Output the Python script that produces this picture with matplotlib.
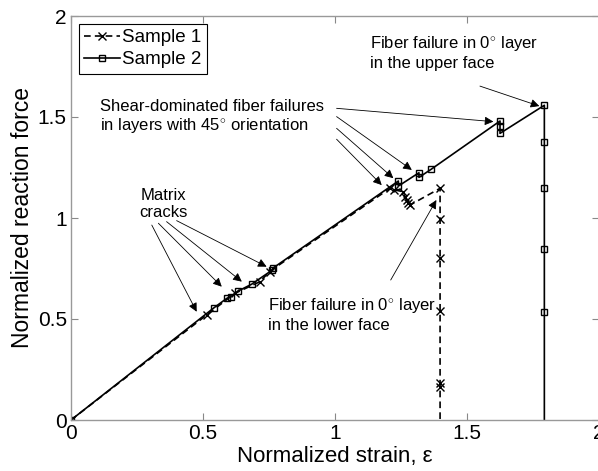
import numpy as np
import matplotlib
matplotlib.use("Agg")
import matplotlib.pyplot as plt

plt.rcParams['font.family'] = ['Liberation Sans', 'DejaVu Sans']
plt.rcParams['mathtext.fontset'] = 'custom'
plt.rcParams['mathtext.rm'] = 'Liberation Sans'

# sample 1 (dashed, x markers)
s1_x = [0, 0.514, 0.621, 0.716, 0.752, 1.208, 1.222, 1.259, 1.265, 1.271, 1.278, 1.284,
        1.398, 1.398, 1.398, 1.398, 1.398, 1.398, 1.398]
s1_y = [0, 0.520, 0.627, 0.685, 0.735, 1.147, 1.140, 1.130, 1.106, 1.089, 1.072, 1.064,
        1.147, 0.994, 0.800, 0.541, 0.183, 0.165, 0.0]

# sample 2 (solid, square markers)
s2_x = [0, 0.542, 0.590, 0.605, 0.634, 0.684, 0.763, 0.765, 1.240, 1.240, 1.318, 1.318,
        1.364, 1.625, 1.625, 1.625, 1.793, 1.793, 1.793, 1.793, 1.793, 1.793]
s2_y = [0, 0.556, 0.602, 0.611, 0.639, 0.672, 0.743, 0.752, 1.183, 1.158, 1.224, 1.201,
        1.241, 1.480, 1.455, 1.419, 1.558, 1.378, 1.147, 0.847, 0.536, 0.0]

# annotation texts and arrows (start -> tip, data coords)
txt_upper = "Fiber failure in 0$^{\\circ}$ layer\nin the upper face"
txt_shear = "Shear-dominated fiber failures\nin layers with 45$^{\\circ}$ orientation"
txt_matrix = "Matrix\ncracks"
txt_lower = "Fiber failure in 0$^{\\circ}$ layer\nin the lower face"

arrows_upper = [((1.549, 1.653), (1.774, 1.554))]
arrows_shear = [((1.006, 1.543), (1.600, 1.477)),
                ((1.006, 1.502), (1.291, 1.238)),
                ((1.006, 1.444), (1.221, 1.197)),
                ((1.006, 1.390), (1.177, 1.163))]
arrows_matrix = [((0.306, 0.965), (0.476, 0.536)),
                 ((0.331, 0.974), (0.571, 0.660)),
                 ((0.362, 0.982), (0.647, 0.685)),
                 ((0.400, 0.987), (0.741, 0.759))]
arrows_lower = [((1.211, 0.693), (1.384, 1.089))]

fig = plt.figure(figsize=(5.98, 4.71), dpi=100)
ax = fig.add_axes([71 / 598, 51 / 471, 528 / 598, 404 / 471])

ax.plot(s1_x, s1_y, 'k--x', lw=1.2, ms=6, mew=1, markevery=list(range(len(s1_x) - 1)),
        dashes=(4, 2.5), label='Sample 1')
ax.plot(s2_x, s2_y, 'k-s', lw=1.2, ms=5, mew=1, mfc='none',
        markevery=list(range(len(s2_x) - 1)), label='Sample 2')

ax.set_xlim(0, 2)
ax.set_ylim(0, 2)
ax.set_xticks([0, 0.5, 1, 1.5, 2])
ax.set_yticks([0, 0.5, 1, 1.5, 2])
ax.set_xticklabels(['0', '0.5', '1', '1.5', '2'])
ax.set_yticklabels(['0', '0.5', '1', '1.5', '2'])
ax.tick_params(direction='in', top=True, right=True, length=5, width=0.8,
               color='#888888', labelsize=15, pad=3)
for sp in ax.spines.values():
    sp.set_color('#999999')
    sp.set_linewidth(1)

ax.set_xlabel('Normalized strain, ε', fontsize=16, labelpad=2)
ax.set_ylabel('Normalized reaction force', fontsize=16.5, labelpad=3)

tfs = 12
ax.text(1.133, 1.817, txt_upper, fontsize=tfs, ha='left', va='center', linespacing=1.15)
ax.text(0.110, 1.498, txt_shear, fontsize=tfs, ha='left', va='center', linespacing=1.15)
ax.text(0.352, 1.069, txt_matrix, fontsize=tfs, ha='center', va='center',
        multialignment='center', linespacing=1.15)
ax.text(0.746, 0.520, txt_lower, fontsize=tfs, ha='left', va='center', linespacing=1.15)

for start, tip in arrows_upper + arrows_shear + arrows_matrix + arrows_lower:
    ax.annotate('', xy=tip, xytext=start,
                arrowprops=dict(arrowstyle='-|>', lw=0.6, color='k',
                                mutation_scale=13, shrinkA=0, shrinkB=0))

leg = ax.legend(loc='upper left', fontsize=13.5, handlelength=1.9, handletextpad=0.1,
                borderpad=0.3, labelspacing=0.25, borderaxespad=0.4, fancybox=False,
                framealpha=1)
leg.get_frame().set_edgecolor('k')
leg.get_frame().set_linewidth(0.8)

fig.savefig('out.png', dpi=100)
